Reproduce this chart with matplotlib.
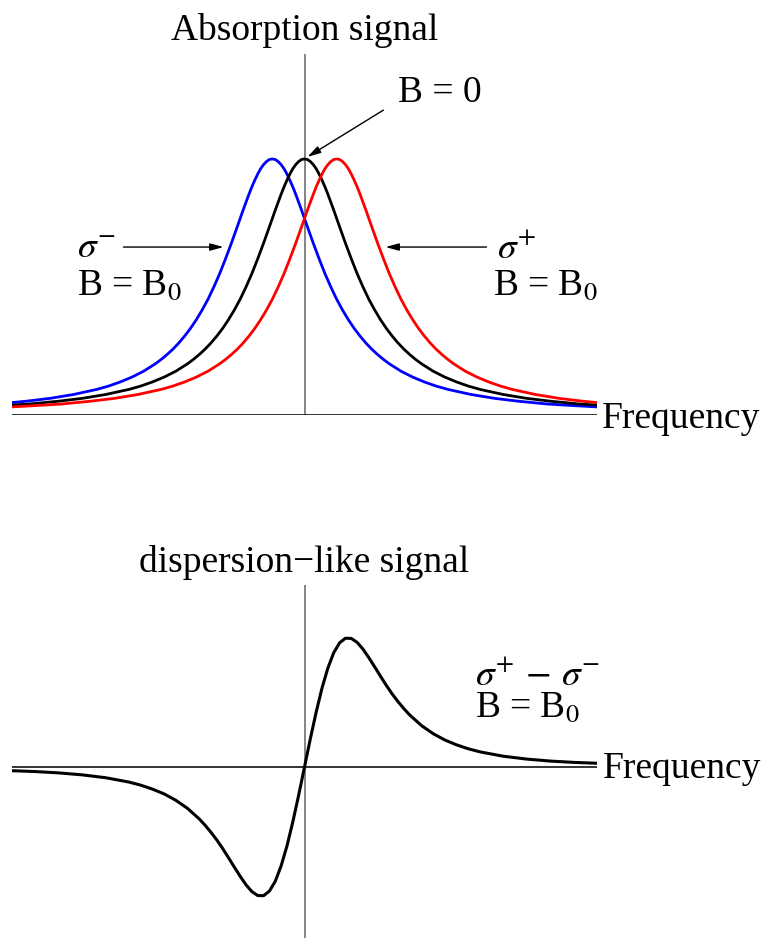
import numpy as np
import matplotlib
matplotlib.use("Agg")
import matplotlib.pyplot as plt

plt.rcParams["font.family"] = ["Liberation Serif", "DejaVu Serif"]
plt.rcParams["mathtext.fontset"] = "stix"

# Absorption line shape: height vs. offset from line centre (in linewidths)
profile_offset = [0.0, 0.05, 0.1, 0.15, 0.2, 0.25, 0.3, 0.35, 0.4, 0.5, 0.6, 0.7,
                  0.8, 0.9, 1.0, 1.1, 1.2, 1.3, 1.4, 1.5, 1.6, 1.7, 1.8, 1.9,
                  2.0, 2.2, 2.4, 2.6, 2.8, 3.0, 3.4, 3.8, 4.2, 4.7, 5.2, 5.6]
profile_height = [1.000, 0.998, 0.990, 0.978, 0.962, 0.941, 0.917, 0.891, 0.862,
                  0.800, 0.735, 0.671, 0.610, 0.552, 0.500, 0.452, 0.410, 0.372,
                  0.338, 0.308, 0.281, 0.257, 0.236, 0.217, 0.200, 0.171, 0.148,
                  0.129, 0.113, 0.100, 0.080, 0.065, 0.054, 0.043, 0.036, 0.031]

# Line centres of the three absorption curves
line_names = ["sigma_minus", "zero_field", "sigma_plus"]
line_centres = [-0.55, 0.0, 0.55]
line_colours = ["#0000ff", "#000000", "#ff0000"]

# Difference signal (sigma+ minus sigma-)
disp_freq = [-5.0, -4.6, -4.2, -3.8, -3.4, -3.0, -2.8, -2.6, -2.4, -2.2, -2.0,
             -1.8, -1.7, -1.6, -1.5, -1.4, -1.3, -1.2, -1.1, -1.0, -0.9, -0.8,
             -0.7, -0.6, -0.5, -0.4, -0.3, -0.2, -0.1, 0.0, 0.1, 0.2, 0.3, 0.4,
             0.5, 0.6, 0.7, 0.8, 0.9, 1.0, 1.1, 1.2, 1.3, 1.4, 1.5, 1.6, 1.7,
             1.8, 2.0, 2.2, 2.4, 2.6, 2.8, 3.0, 3.4, 3.8, 4.2, 4.6, 5.0]
disp_signal = [-0.017, -0.021, -0.027, -0.036, -0.049, -0.069, -0.083, -0.101,
               -0.123, -0.152, -0.189, -0.237, -0.266, -0.298, -0.333, -0.372,
               -0.414, -0.457, -0.499, -0.538, -0.569, -0.587, -0.588, -0.567,
               -0.522, -0.452, -0.361, -0.251, -0.129, 0.000, 0.129, 0.251,
               0.361, 0.452, 0.522, 0.567, 0.588, 0.587, 0.569, 0.538, 0.499,
               0.457, 0.414, 0.372, 0.333, 0.298, 0.266, 0.237, 0.189, 0.152,
               0.123, 0.101, 0.083, 0.069, 0.049, 0.036, 0.027, 0.021, 0.017]

W, H = 762, 939
fig = plt.figure(figsize=(W / 100, H / 100), dpi=100)


def box(left, top, right, bottom):
    return [left / W, 1 - bottom / H, (right - left) / W, (bottom - top) / H]


def fx(x):
    return x / W


def fy(y):
    return 1 - y / H


FS = 27

# ---------- absorption panel ----------
ax1 = fig.add_axes(box(12, 54, 597, 415))
ax1.set_xlim(-5, 5)
ax1.set_ylim(0, 1.410)
ax1.set_axis_off()
ax1.axvline(0, color="#707070", lw=1.2, zorder=1)
ax1.axhline(0, color="#111111", lw=1.2, zorder=1)

off = np.array(profile_offset)
hgt = np.array(profile_height)
full_off = np.concatenate([-off[:0:-1], off])
full_hgt = np.concatenate([hgt[:0:-1], hgt])
for name, c, col in zip(line_names, line_centres, line_colours):
    ax1.plot(full_off + c, full_hgt, color=col, lw=2.0, zorder=3,
             solid_joinstyle="round", clip_on=True)

arrow = dict(arrowstyle="-|>,head_length=0.8,head_width=0.22",
             mutation_scale=10, lw=1.0, color="black", shrinkA=0, shrinkB=0)
ax1.annotate("", xy=(-1.385, 0.656), xytext=(-3.094, 0.656), arrowprops=arrow)
ax1.annotate("", xy=(1.385, 0.656), xytext=(3.111, 0.656), arrowprops=arrow)
ax1.annotate("", xy=(0.051, 1.008), xytext=(1.350, 1.191), arrowprops=arrow)

fig.text(fx(304.5), fy(40), "Absorption signal", ha="center", va="baseline", fontsize=FS)
fig.text(fx(398), fy(102), "B = 0", ha="left", va="baseline", fontsize=FS)
fig.text(fx(77), fy(258), r"$\sigma^{-}$", ha="left", va="baseline", fontsize=FS)
fig.text(fx(77), fy(295), r"B = B$_0$", ha="left", va="baseline", fontsize=FS)
fig.text(fx(497), fy(258), r"$\sigma^{+}$", ha="left", va="baseline", fontsize=FS)
fig.text(fx(493), fy(295), r"B = B$_0$", ha="left", va="baseline", fontsize=FS)
fig.text(fx(602), fy(428), "Frequency", ha="left", va="baseline", fontsize=FS)

# ---------- dispersion-like panel ----------
ax2 = fig.add_axes(box(12, 585, 597, 938))
ax2.set_xlim(-5, 5)
ax2.set_ylim(-0.781, 0.831)
ax2.set_axis_off()
ax2.axvline(0, color="#707070", lw=1.2, zorder=1)
ax2.axhline(0, color="#111111", lw=1.2, zorder=1)
ax2.plot(disp_freq, disp_signal, color="black", lw=2.2, zorder=3,
         solid_joinstyle="round")

fig.text(fx(304), fy(572), "dispersion\u2212like signal", ha="center", va="baseline", fontsize=FS)
fig.text(fx(475), fy(685), r"$\sigma^{+}\,-\,\sigma^{-}$", ha="left", va="baseline", fontsize=FS)
fig.text(fx(475), fy(717), r"B = B$_0$", ha="left", va="baseline", fontsize=FS)
fig.text(fx(603), fy(778), "Frequency", ha="left", va="baseline", fontsize=FS)

fig.savefig("out.png", dpi=100, facecolor="white")
